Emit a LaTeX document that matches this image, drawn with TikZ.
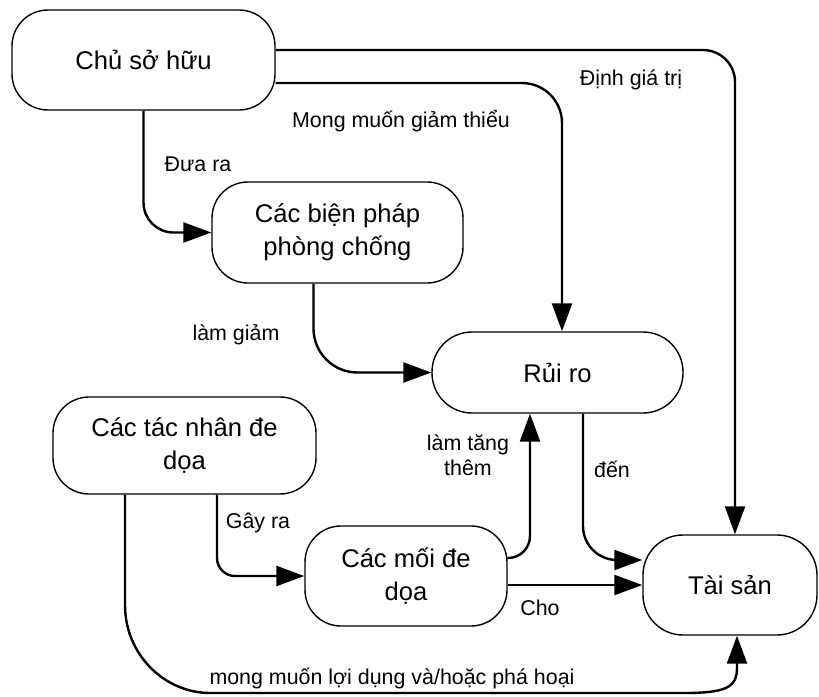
\documentclass[tikz,border=0pt]{standalone}
\usepackage{fontspec}
\setmainfont{Liberation Sans}
\usetikzlibrary{arrows.meta, positioning}

\begin{document}
\begin{tikzpicture}[
    x=0.5pt, y=-0.5pt,
    box/.style={
      rectangle, rounded corners=18pt, draw=black, line width=0.7pt,
      inner sep=0pt, align=center,
      font=\fontsize{12.8}{16.5}\selectfont,
    },
    lbl/.style={font=\fontsize{10.7}{12.5}\selectfont, align=center, inner sep=0pt},
    conn/.style={-{Triangle[length=14pt, width=10pt]}, line width=1.2pt},
  ]
  \useasboundingbox (0,0) rectangle (819,696);

  %% --- boxes ---
  \node[box, minimum width=131.5pt, minimum height=50pt] (owner) at (143.5,60)
    {Chủ sở hữu};
  \node[box, minimum width=125.5pt, minimum height=50.5pt] (measures) at (337.5,232.5)
    {Các biện pháp\\phòng chống};
  \node[box, minimum width=125.5pt, minimum height=40.5pt, rounded corners=20pt] (risk) at (557.5,372.5)
    {Rủi ro};
  \node[box, minimum width=131.5pt, minimum height=48.5pt] (agents) at (184.5,445.5)
    {Các tác nhân đe\\dọa};
  \node[box, minimum width=101pt, minimum height=50pt] (threats) at (406,576)
    {Các mối đe\\dọa};
  \node[box, minimum width=87pt, minimum height=50pt, rounded corners=20pt] (assets) at (730,585)
    {Tài sản};

  %% --- connectors ---
  \draw[conn, rounded corners=16pt] ([yshift=5pt]owner.east) -| ([xshift=2.5pt]assets.north);
  \draw[conn, rounded corners=20pt] ([yshift=-11.5pt]owner.east) -| ([xshift=2.25pt]risk.north);
  \draw[conn, rounded corners=15pt] (owner.south) |- (measures.west);
  \draw[conn, rounded corners=22pt] ([xshift=-12pt]measures.south) |- (risk.west);
  \draw[conn, rounded corners=9pt] ([xshift=16.25pt]agents.south) |- (threats.west);
  \draw[conn, rounded corners=11pt] ([yshift=9pt]threats.east) -| ([xshift=-13.75pt]risk.south);
  \draw[conn] ([yshift=-4.5pt]threats.east) -- (assets.west);
  \draw[conn, rounded corners=17pt] ([xshift=12.75pt]risk.south) |- ([yshift=12.5pt]assets.west);
  \draw[conn] ([xshift=-29.75pt]agents.south) -- (125,605)
    .. controls (125,655) and (165,693) .. (210,693) -- (683,693)
    .. controls (725,693) and (737,688) .. (737,668) -- ([xshift=3.5pt]assets.south);

  %% --- labels ---
  \node[lbl, anchor=base] (valuelbl) at (631,85) {Định giá trị};
  \node[lbl, anchor=base] (wishlbl) at (401,127) {Mong muốn giảm thiểu};
  \node[lbl, anchor=base] (givelbl) at (198,171) {Đưa ra};
  \node[lbl, anchor=base] (reducelbl) at (236,340) {làm giảm};
  \node[lbl, anchor=base] (causelbl) at (258,528) {Gây ra};
  \node[lbl] (raiselbl) at (468,455) {làm tăng\\thêm};
  \node[lbl, anchor=base] (forlbl) at (540,615) {Cho};
  \node[lbl, anchor=base] (tolbl) at (612,477) {đến};
  \node[lbl, anchor=base] (abuselbl) at (392,684) {mong muốn lợi dụng và/hoặc phá hoại};
\end{tikzpicture}
\end{document}
